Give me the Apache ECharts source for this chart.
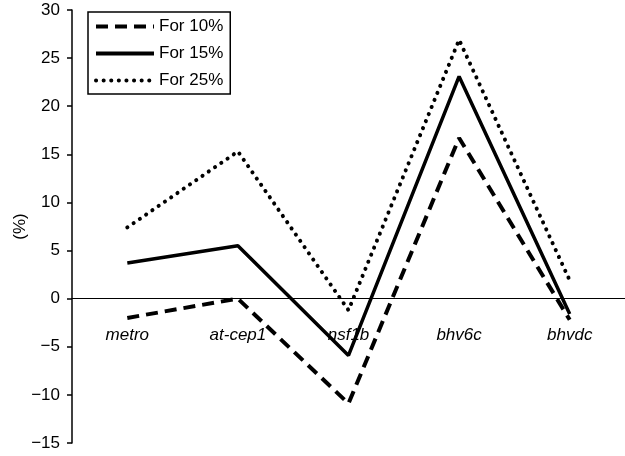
<!DOCTYPE html>
<html>
<head>
<meta charset="utf-8">
<script src="https://cdn.jsdelivr.net/npm/echarts@6/dist/echarts.min.js"></script>
<style>html,body{margin:0;padding:0;background:#fff}#c{width:625px;height:456px}</style>
</head>
<body>
<div id="c"></div>
<script>
const categories = ['metro', 'at-cep1', 'nsf1b', 'bhv6c', 'bhvdc'];
const for10 = [-2.0, 0.0, -10.9, 16.7, -2.2];
const for15 = [3.7, 5.5, -5.9, 23.1, -1.6];
const for25 = [7.4, 15.3, -1.2, 26.9, 1.9];
const seriesNames = ['For 10%', 'For 15%', 'For 25%'];
const yTicks = {min: -15, max: 30, step: 5};

const FONT = 'Liberation Sans, Arial, Helvetica, sans-serif';
const FS = 17;
const GRID_TOP = 10, GRID_BOTTOM = 13, H = 456;
// place the category axis on the zero line
const plotH = H - GRID_TOP - GRID_BOTTOM;
const zeroFromBottom = plotH * (0 - yTicks.min) / (yTicks.max - yTicks.min);

const chart = echarts.init(document.getElementById('c'), null, {renderer: 'canvas'});
chart.setOption({
  animation: false,
  backgroundColor: '#fff',
  grid: {left: 72, right: 0, top: GRID_TOP, bottom: GRID_BOTTOM, containLabel: false, outerBoundsMode: 'none'},
  legend: {
    orient: 'vertical',
    left: 88, top: 12,
    padding: [6, 7, 5, 6],
    itemGap: 10,
    itemWidth: 58, itemHeight: 17,
    borderColor: '#000', borderWidth: 1.5,
    itemStyle: {opacity: 0},
    lineStyle: {width: 4},
    textStyle: {fontFamily: FONT, fontSize: FS, color: '#000'},
    data: seriesNames
  },
  xAxis: {
    type: 'category',
    data: categories,
    boundaryGap: true,
    position: 'bottom',
    offset: -zeroFromBottom,
    axisLine: {onZero: false, lineStyle: {color: '#000', width: 1.2}},
    axisTick: {inside: true, length: 5, lineStyle: {color: '#000', width: 1.2}},
    axisLabel: {margin: 28, fontFamily: FONT, fontSize: FS, fontStyle: 'italic', color: '#000'},
    splitLine: {show: false}
  },
  yAxis: {
    type: 'value',
    min: yTicks.min, max: yTicks.max, interval: yTicks.step,
    name: '(%)',
    nameLocation: 'middle',
    nameGap: 43,
    nameMoveOverlap: false,
    nameRotate: 90,
    nameTextStyle: {fontFamily: FONT, fontSize: FS, color: '#000'},
    axisLine: {show: true, lineStyle: {color: '#000', width: 1.5}},
    axisTick: {show: true, length: 5, lineStyle: {color: '#000', width: 1.5}},
    axisLabel: {margin: 12, fontFamily: FONT, fontSize: FS, color: '#000',
      formatter: v => v < 0 ? '\u2212' + Math.abs(v) : String(v)},
    splitLine: {show: false}
  },
  series: [
    {name: seriesNames[0], type: 'line', data: for10, symbol: 'none',
      lineStyle: {color: '#000', width: 4, type: [12, 7]}, itemStyle: {color: '#000'}},
    {name: seriesNames[1], type: 'line', data: for15, symbol: 'none',
      lineStyle: {color: '#000', width: 3.5, type: 'solid'}, itemStyle: {color: '#000'}},
    {name: seriesNames[2], type: 'line', data: for25, symbol: 'none',
      lineStyle: {color: '#000', width: 4, type: [0.1, 7.5], cap: 'round'}, itemStyle: {color: '#000'}}
  ]
});
</script>
</body>
</html>
